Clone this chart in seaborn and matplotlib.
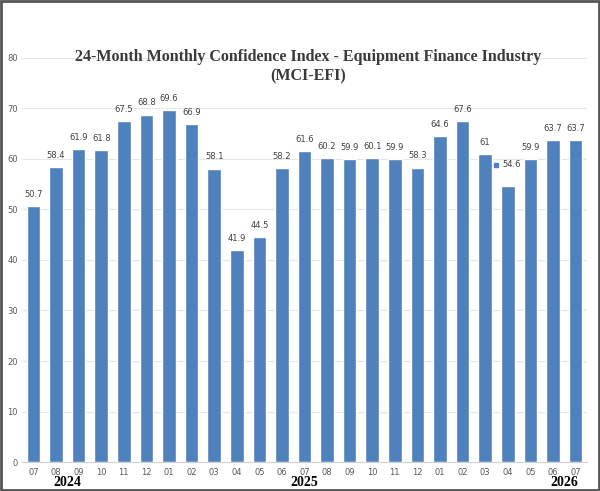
import pandas as pd
import seaborn as sb
import matplotlib
matplotlib.use("Agg")
import matplotlib.pyplot as plt

# monthly values
months = ["07", "08", "09", "10", "11", "12", "01", "02", "03", "04", "05", "06",
          "07", "08", "09", "10", "11", "12", "01", "02", "03", "04", "05", "06", "07"]
values = [50.7, 58.4, 61.9, 61.8, 67.5, 68.8, 69.6, 66.9, 58.1, 41.9, 44.5, 58.2,
          61.6, 60.2, 59.9, 60.1, 59.9, 58.3, 64.6, 67.6, 61, 54.6, 59.9, 63.7, 63.7]
value_labels = ["50.7", "58.4", "61.9", "61.8", "67.5", "68.8", "69.6", "66.9", "58.1",
                "41.9", "44.5", "58.2", "61.6", "60.2", "59.9", "60.1", "59.9", "58.3",
                "64.6", "67.6", "61", "54.6", "59.9", "63.7", "63.7"]
years = ["2024", "2025", "2026"]
year_pos = [1.5, 12, 23.5]

df = pd.DataFrame({"pos": range(len(values)), "value": values})

sb.set_style("white")
fig = plt.figure(figsize=(6, 4.91), dpi=100)
ax = fig.add_axes([0.037, 0.059, 0.941, 0.823])

sb.barplot(data=df, x="pos", y="value", color="#4F81BD", saturation=1,
           width=0.6, ax=ax, zorder=3)

ax.set_ylim(0, 80)
ax.set_xlim(-0.5, len(values) - 0.5)
ax.set_yticks(range(0, 81, 10))
ax.set_xticks(range(len(values)))
ax.set_xticklabels(months)
ax.tick_params(axis="both", labelsize=6, colors="#595959", length=0, pad=4)
ax.tick_params(axis="y", pad=3)
ax.yaxis.grid(True, color="#e6e6e6", linewidth=0.8, zorder=0)
ax.set_xlabel("")
ax.set_ylabel("")
for s in ["top", "right", "left"]:
    ax.spines[s].set_visible(False)
ax.spines["bottom"].set_color("#d0d0d0")
ax.spines["bottom"].set_linewidth(0.8)

for i, (v, lab) in enumerate(zip(values, value_labels)):
    if lab == "54.6":
        ax.text(i + 0.15, v + 3.4, lab, ha="center", va="bottom", fontsize=6, color="#404040")
        ax.plot(i - 0.5, v + 4.3, marker="s", markersize=3, color="#4F81BD", zorder=4)
    else:
        ax.text(i, v + 1.4, lab, ha="center", va="bottom", fontsize=6, color="#404040")

for y, p in zip(years, year_pos):
    ax.text(p, -4.1, y, ha="center", va="center", fontsize=10, fontweight="bold",
            family="Liberation Serif", color="black")

fig.text(0.513, 0.864, "24-Month Monthly Confidence Index - Equipment Finance Industry\n(MCI-EFI)",
         ha="center", va="center", fontsize=11.5, fontweight="bold",
         family="Liberation Serif", color="#3a3a3a", linespacing=1.25)

# grey frame round the picture
fig.patches.append(plt.Rectangle((0.002, 0.002), 0.996, 0.996, transform=fig.transFigure,
                                 fill=False, edgecolor="#555555", linewidth=2))

plt.savefig("out.png", dpi=100)
